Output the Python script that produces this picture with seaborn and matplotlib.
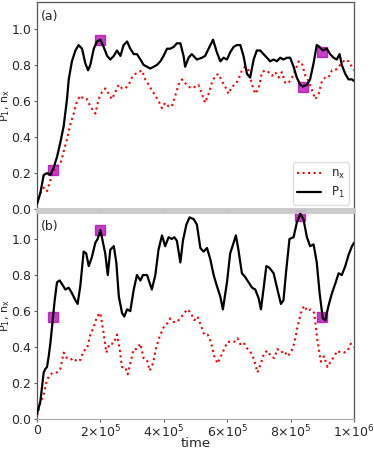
import numpy as np
import pandas as pd
import matplotlib
matplotlib.use("Agg")
import matplotlib.pyplot as plt
import seaborn as sns

# ---- data (times in units of 1e3) ----
# panel (a)
t_a_p1 = [0, 10.5, 21, 31.5, 42, 52.5, 63, 73.5, 84, 94.5, 100, 110, 121, 131, 142, 152,
          161, 168, 179, 189, 200, 210, 221, 231, 242, 252, 263, 273, 284, 294, 305, 315,
          326, 336, 347, 357, 368, 378, 389, 399, 410, 420, 431, 441, 452, 462, 467, 478,
          488, 504, 520, 530, 541, 555, 567, 578, 588, 599, 609, 620, 630, 641, 651, 662,
          672, 683, 693, 704, 714, 725, 735, 746, 756, 767, 777, 788, 798, 809, 819, 830,
          838, 851, 861, 872, 882, 891, 901, 914, 924, 935, 945, 954, 961, 972, 982, 993, 1000]
p1_a = [0.03, 0.09, 0.19, 0.20, 0.19, 0.23, 0.29, 0.37, 0.46, 0.61, 0.72, 0.82, 0.88, 0.91,
        0.89, 0.81, 0.77, 0.80, 0.89, 0.93, 0.94, 0.90, 0.85, 0.83, 0.85, 0.88, 0.85, 0.91,
        0.93, 0.89, 0.86, 0.86, 0.83, 0.80, 0.79, 0.78, 0.79, 0.80, 0.82, 0.85, 0.89, 0.89,
        0.90, 0.92, 0.92, 0.85, 0.79, 0.84, 0.86, 0.83, 0.84, 0.85, 0.89, 0.94, 0.87, 0.82,
        0.84, 0.83, 0.87, 0.90, 0.91, 0.91, 0.85, 0.75, 0.73, 0.83, 0.88, 0.88, 0.86, 0.84,
        0.82, 0.83, 0.82, 0.84, 0.83, 0.84, 0.84, 0.79, 0.73, 0.69, 0.68, 0.69, 0.72, 0.81,
        0.91, 0.90, 0.88, 0.89, 0.86, 0.84, 0.83, 0.86, 0.80, 0.75, 0.72, 0.72, 0.71]
t_a_nx = [0, 10.5, 21, 31.5, 42, 52.5, 63, 73.5, 84, 94.5, 105, 115.5, 126, 136.5, 147,
          157.5, 168, 184, 194, 205, 215, 226, 236, 247, 257, 268, 278, 289, 299, 310, 320,
          331, 341, 352, 362, 373, 383, 394, 404, 415, 425, 436, 446, 457, 467, 478, 488,
          499, 509, 520, 530, 541, 551, 562, 572, 583, 593, 604, 614, 625, 635, 646, 656,
          667, 678, 688, 699, 709, 720, 730, 741, 751, 762, 772, 783, 793, 804, 814, 825,
          835, 846, 856, 867, 877, 888, 898, 909, 919, 930, 940, 951, 961, 972, 982, 993, 1000]
nx_a = [0.03, 0.09, 0.12, 0.10, 0.16, 0.21, 0.24, 0.25, 0.32, 0.39, 0.47, 0.53, 0.60, 0.63,
        0.61, 0.61, 0.57, 0.53, 0.61, 0.65, 0.67, 0.64, 0.61, 0.65, 0.69, 0.67, 0.67, 0.69,
        0.73, 0.75, 0.76, 0.77, 0.72, 0.69, 0.66, 0.63, 0.60, 0.56, 0.59, 0.57, 0.57, 0.63,
        0.69, 0.72, 0.70, 0.68, 0.67, 0.68, 0.69, 0.64, 0.59, 0.64, 0.70, 0.74, 0.75, 0.71,
        0.68, 0.64, 0.68, 0.69, 0.72, 0.77, 0.79, 0.77, 0.69, 0.64, 0.67, 0.76, 0.77, 0.76,
        0.74, 0.76, 0.73, 0.76, 0.70, 0.70, 0.73, 0.77, 0.82, 0.81, 0.74, 0.71, 0.66, 0.61,
        0.64, 0.71, 0.73, 0.73, 0.77, 0.77, 0.79, 0.81, 0.83, 0.82, 0.79, 0.77]
mark_t_a = [50, 200, 840, 900]
mark_v_a = [0.22, 0.94, 0.68, 0.87]

# panel (b)
t_b_p1 = [0, 10.5, 15.8, 21, 26.3, 31.5, 36.8, 42, 49.4, 55.7, 63, 71.4, 78.8, 89.3, 99.8,
          110, 121, 128, 136.5, 147, 155, 163, 173, 184, 191, 200, 208, 215, 223, 231, 242,
          250, 258, 268, 275, 284, 294, 305, 315, 326, 334, 347, 362, 373, 383, 394, 404,
          415, 425, 433, 441, 452, 460, 471, 481, 494, 504, 515, 525, 536, 546, 557, 567,
          578, 586, 599, 609, 620, 627, 635, 646, 656, 667, 678, 688, 699, 706, 714, 723,
          733, 746, 758, 769, 777, 786, 796, 809, 819, 830, 840, 851, 861, 872, 882, 891,
          901, 909, 919, 930, 940, 951, 961, 972, 982, 993, 1000]
p1_b = [0.03, 0.10, 0.18, 0.26, 0.28, 0.29, 0.35, 0.42, 0.55, 0.66, 0.76, 0.77, 0.75, 0.72,
        0.73, 0.70, 0.66, 0.64, 0.74, 0.93, 0.92, 0.85, 0.90, 0.98, 1.00, 1.05, 0.98, 0.92,
        0.80, 0.94, 0.96, 0.87, 0.68, 0.59, 0.57, 0.61, 0.60, 0.72, 0.80, 0.77, 0.80, 0.80,
        0.72, 0.80, 0.94, 1.02, 0.96, 1.01, 1.00, 1.01, 0.99, 0.87, 0.99, 1.08, 1.12, 1.11,
        1.08, 0.95, 0.93, 0.95, 0.89, 0.80, 0.74, 0.68, 0.61, 0.76, 0.92, 0.98, 1.02, 0.94,
        0.81, 0.79, 0.76, 0.73, 0.72, 0.67, 0.61, 0.72, 0.85, 0.84, 0.81, 0.72, 0.64, 0.66,
        0.83, 1.00, 1.01, 1.09, 1.14, 1.11, 1.01, 0.96, 0.97, 0.87, 0.70, 0.56, 0.55, 0.63,
        0.70, 0.75, 0.81, 0.80, 0.85, 0.91, 0.96, 0.98]
t_b_nx = [0, 10.5, 21, 31.5, 42, 52.5, 63, 73.5, 84, 94.5, 105, 115.5, 126, 136.5, 147,
          157.5, 168, 178.6, 189, 199.6, 208, 218.5, 229, 241.6, 252, 260.5, 268, 278,
          285.7, 294, 304.6, 315, 325.6, 336, 346.6, 355, 365.5, 376, 386.6, 399, 409.7,
          420, 430.7, 441, 451.7, 464, 474.8, 485, 495.8, 506, 516.8, 527, 537.8, 548,
          558.8, 569, 579.8, 590, 600.8, 611, 621.8, 632, 642.9, 653, 663.9, 674, 684.9,
          695, 705.9, 716, 726.9, 737, 747.9, 758, 768.9, 779, 789.9, 800, 810.9, 821,
          831.9, 842, 852.9, 863, 873.9, 884, 894.9, 905, 915.9, 926, 937, 947, 958, 968,
          979, 989.5, 1000]
nx_b = [0.02, 0.09, 0.14, 0.22, 0.25, 0.26, 0.26, 0.28, 0.37, 0.34, 0.33, 0.34, 0.32, 0.33,
        0.38, 0.39, 0.47, 0.51, 0.57, 0.59, 0.50, 0.37, 0.42, 0.42, 0.47, 0.39, 0.29, 0.29,
        0.25, 0.31, 0.39, 0.39, 0.42, 0.34, 0.33, 0.27, 0.31, 0.40, 0.46, 0.51, 0.53, 0.56,
        0.54, 0.54, 0.56, 0.59, 0.61, 0.59, 0.55, 0.57, 0.52, 0.47, 0.47, 0.43, 0.35, 0.31,
        0.35, 0.39, 0.43, 0.43, 0.43, 0.45, 0.41, 0.42, 0.39, 0.37, 0.33, 0.26, 0.31, 0.37,
        0.38, 0.35, 0.34, 0.39, 0.37, 0.38, 0.35, 0.37, 0.42, 0.51, 0.59, 0.63, 0.60, 0.61,
        0.59, 0.44, 0.32, 0.35, 0.29, 0.32, 0.35, 0.38, 0.37, 0.37, 0.38, 0.42, 0.40]
mark_t_b = [50, 200, 830, 900]
mark_v_b = [0.57, 1.05, 1.13, 0.57]

xticks = [0, 2e5, 4e5, 6e5, 8e5, 1e6]
xtick_labels = ["0", r"2$\times$10$^5$", r"4$\times$10$^5$", r"6$\times$10$^5$",
                r"8$\times$10$^5$", r"1$\times$10$^6$"]
yticks = [0.0, 0.2, 0.4, 0.6, 0.8, 1.0]

sns.set_style("white")
plt.rcParams['font.family'] = ['DejaVu Sans']

fig = plt.figure(figsize=(3.74, 4.49), dpi=100)
ax_a = fig.add_axes([0.099, 0.534, 0.848, 0.462])
ax_b = fig.add_axes([0.099, 0.066, 0.848, 0.462])


def draw_panel(ax, t_p1, p1, t_nx, nx, mt, mv, tag):
    sns.lineplot(x=np.array(t_nx) * 1e3, y=nx, ax=ax, color='red', linestyle=':',
                 linewidth=1.5, estimator=None, label=r'n$_{\rm x}$', zorder=2)
    sns.lineplot(x=np.array(t_p1) * 1e3, y=p1, ax=ax, color='black', linewidth=1.6,
                 estimator=None, label=r'P$_1$', zorder=3)
    ax.plot(np.array(mt) * 1e3, mv, linestyle='none', marker='s', markersize=7,
            color='#b400b4', alpha=0.75, zorder=2.5, clip_on=False)
    ax.set_xlim(0, 1e6)
    ax.set_ylim(0, 1.15)
    ax.set_yticks(yticks)
    ax.set_yticklabels([f"{v:.1f}" for v in yticks])
    ax.set_xticks(xticks)
    ax.set_ylabel(r'P$_1$, n$_{\rm x}$', fontsize=8)
    ax.yaxis.set_label_coords(-0.078, 0.5)
    ax.tick_params(axis='y', labelsize=9, length=2, width=0.8, color='#666',
                   left=True, pad=2)
    ax.tick_params(axis='x', labelsize=9, length=2, width=0.8, color='#666',
                   bottom=True, pad=1)
    for s in ['left', 'right', 'top']:
        ax.spines[s].set_color('#555')
        ax.spines[s].set_linewidth(0.9)
    ax.text(0.012, 0.93, tag, transform=ax.transAxes, fontsize=9, va='center', ha='left')


draw_panel(ax_a, t_a_p1, p1_a, t_a_nx, nx_a, mark_t_a, mark_v_a, '(a)')
draw_panel(ax_b, t_b_p1, p1_b, t_b_nx, nx_b, mark_t_b, mark_v_b, '(b)')

ax_a.set_xticklabels([])
ax_a.set_xlabel('')
ax_a.spines['bottom'].set_color('#c8c8c8')
ax_a.spines['bottom'].set_linewidth(2)
ax_b.spines['top'].set_color('#c8c8c8')
ax_b.spines['top'].set_linewidth(2)
ax_b.spines['bottom'].set_color('#aaa')
ax_b.set_xticklabels(xtick_labels)
ax_b.set_xlabel('time', fontsize=9.5)
ax_b.xaxis.set_label_coords(0.5, -0.118)
ax_b.xaxis.label.set_va('center')

ax_a.legend(loc='lower right', fontsize=8.5, frameon=True, handlelength=2.0,
            borderpad=0.4, labelspacing=0.3, framealpha=1, edgecolor='#ddd',
            borderaxespad=0.4)
ax_b.get_legend().remove()

fig.savefig('out.png', dpi=100)
